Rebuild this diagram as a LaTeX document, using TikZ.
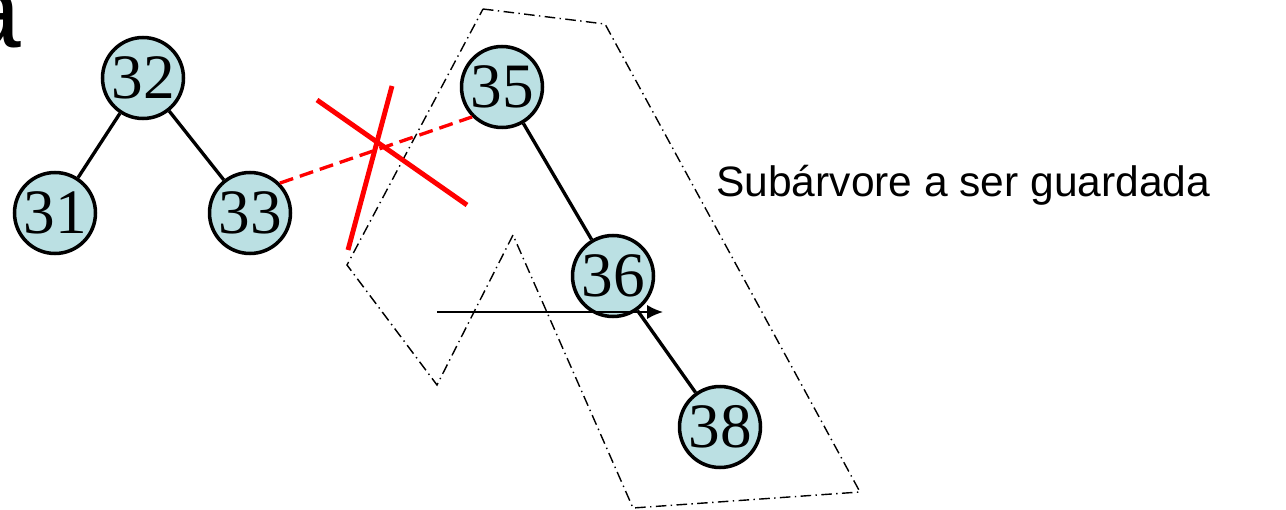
\documentclass[tikz,border=0pt]{standalone}
\usepackage{fontspec}
\setmainfont{Liberation Serif}
\newfontfamily\labelfont{Liberation Sans}
\usetikzlibrary{arrows.meta}
\definecolor{nodefill}{RGB}{187,224,227}

\begin{document}
\begin{tikzpicture}[
        x=0.02cm, y=-0.02cm,
        treenode/.style={circle, draw=black, line width=2pt, fill=nodefill, minimum size=1.62cm, inner sep=0pt, font=\fontsize{36}{40}\selectfont},
        edge/.style={line width=1.9pt},
        cutedge/.style={red, line width=1.9pt, dash pattern=on 8pt off 4pt},
        cross/.style={red, line width=2.8pt},
        region/.style={line width=0.8pt, dash pattern=on 6pt off 2.5pt on 0.8pt off 2.5pt},
        arrow/.style={-{Latex[length=9pt, width=8pt]}, line width=1pt},
        caption/.style={font=\labelfont\fontsize{24.2}{28}\selectfont, inner sep=0pt}
    ]
        \useasboundingbox (0,0) rectangle (1286,510);
        \clip (0,0) rectangle (1286,510);

        % Panel letter
        \node[font=\labelfont\fontsize{60}{64}\selectfont, inner sep=0pt, anchor=base east] (panel) at (21,48) {a};

        % Subtree to be kept
        \draw[region] (483,9) -- (605,24) -- (860,492) -- (633,508) -- (513,235)
            -- (437,385) -- (347,265) -- cycle;

        % Tree nodes
        \node[treenode] (n32) at (143,78) {32};
        \node[treenode] (n31) at (55,213) {31};
        \node[treenode] (n33) at (250,213) {33};
        \node[treenode] (n35) at (502,87) {35};
        \node[treenode] (n36) at (613,276) {36};
        \node[treenode] (n38) at (720,427) {38};

        % Edges
        \draw[edge] (n32) -- (n31);
        \draw[edge] (n32) -- (n33);
        \draw[edge] (n35) -- (n36);
        \draw[edge] (n36) -- (n38);

        % Cut link
        \draw[cutedge] (n33.45) -- (n35.225);
        \coordinate (crossa1) at (317,100);
        \coordinate (crossa2) at (467,205);
        \coordinate (crossb1) at (392,86);
        \coordinate (crossb2) at (348,250);
        \draw[cross] (crossa1) -- (crossa2);
        \draw[cross] (crossb1) -- (crossb2);

        % Arrow
        \coordinate (arrowstart) at (437,312);
        \coordinate (arrowend) at (663,312);
        \draw[arrow] (arrowstart) -- (arrowend);

        % Label
        \node[caption, anchor=base west] (label) at (716,196) {Subárvore a ser guardada};
    \end{tikzpicture}
\end{document}
